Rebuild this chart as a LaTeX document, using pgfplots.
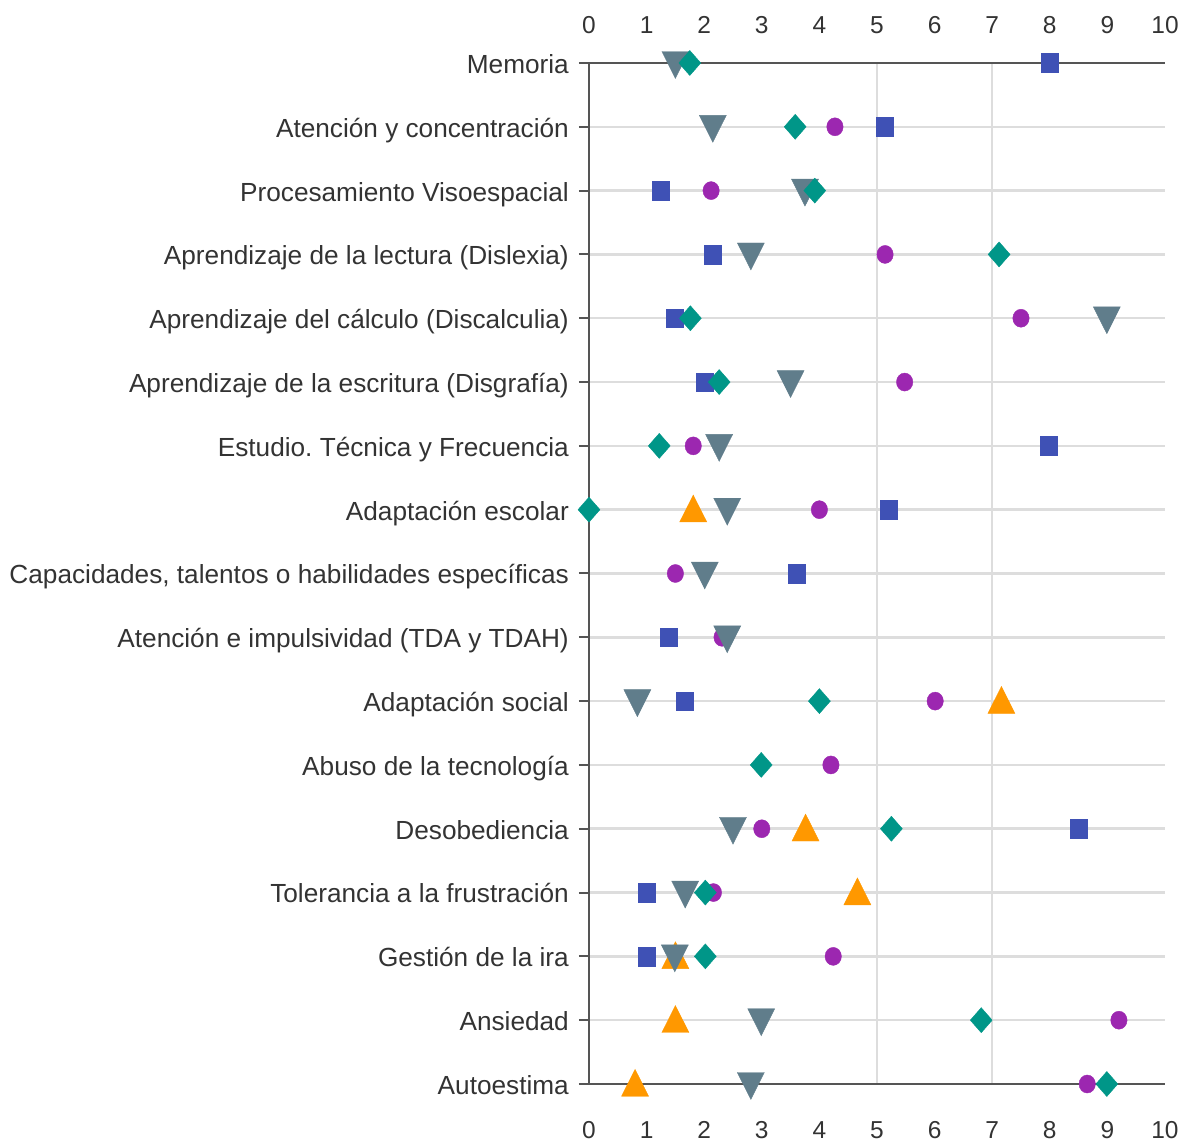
\documentclass[border=0pt]{standalone}
\usepackage{fontspec}
\setmainfont{Liberation Sans}
\usepackage{pgfplots}
\pgfplotsset{compat=1.18}
\frenchspacing
\definecolor{cSq}{HTML}{3F51B5}
\definecolor{cCi}{HTML}{9C27B0}
\definecolor{cOr}{HTML}{FF9800}
\definecolor{cTr}{HTML}{607D8B}
\definecolor{cDi}{HTML}{009688}
\definecolor{gridc}{HTML}{DDDDDD}
\definecolor{axc}{HTML}{555555}
\definecolor{txt}{HTML}{333333}
\begin{document}
\begin{tikzpicture}
\pgfplotsset{common/.style={
  width=576bp, height=1021bp, scale only axis,
  xmin=0, xmax=10, ymin=0, ymax=16,
  clip=false,
  xtick={0,...,10},
  /pgf/number format/assume math mode=true,
  xticklabel style={font=\fontsize{24.5bp}{29bp}\selectfont, text=txt},
  yticklabel style={font=\fontsize{26.2bp}{31bp}\selectfont, text=txt},
}}
\begin{axis}[common,
  axis line style={draw=none},
  ytick={0,...,16},
  yticklabels={Autoestima, Ansiedad, Gestión de la ira, Tolerancia a la frustración, Desobediencia, Abuso de la tecnología, Adaptación social, Atención e impulsividad (TDA y TDAH), {Capacidades, talentos o habilidades específicas}, Adaptación escolar, Estudio.\ Técnica y Frecuencia, Aprendizaje de la escritura (Disgrafía), Aprendizaje del cálculo (Discalculia), Aprendizaje de la lectura (Dislexia), Procesamiento Visoespacial, Atención y concentración, Memoria},
  ytick pos=left,
  xtick pos=left,
  xticklabel pos=left,
  tick align=outside,
  major tick length=10bp,
  ytick style={draw=axc, line width=2bp},
  xtick style={draw=none},
  ymajorgrids,
  major grid style={draw=gridc, line width=2.5bp},
  yticklabel style={anchor=base east, inner sep=0pt, xshift=-10bp, yshift=-10.4bp},
  xticklabel style={anchor=north, inner sep=0pt, yshift=-27bp},
]
\draw[gridc, line width=2.5bp] (axis cs:5,0) -- (axis cs:5,16);
\draw[gridc, line width=2.5bp] (axis cs:7,0) -- (axis cs:7,16);
\draw[axc, line width=2bp] (axis cs:0,0) -- (axis cs:10,0);
\draw[axc, line width=2bp] (axis cs:0,16) -- (axis cs:10,16);
\draw[axc, line width=2bp] (axis cs:0,0) -- (axis cs:0,16);
% squares
\addplot[only marks, color=cSq, mark=square*, mark size=8.5bp, mark options={draw=none, fill=cSq, yscale=1.1}]
 coordinates {(8.0,16)(5.14,15)(1.25,14)(2.15,13)(1.49,12)(2.01,11)(7.98,10)(5.2,9)(3.61,8)(1.38,7)(1.66,6)(8.5,4)(1.0,3)(1.0,2)};
% circles
\addplot[only marks, color=cCi, mark=*, mark size=8.2bp, mark options={draw=none, fill=cCi, yscale=1.1}]
 coordinates {(4.27,15)(2.12,14)(5.14,13)(7.5,12)(5.48,11)(1.81,10)(4.0,9)(1.5,8)(2.31,7)(6.01,6)(4.2,5)(3.0,4)(2.16,3)(4.24,2)(9.2,1)(8.65,0)};
% orange up triangles
\addplot[only marks, color=cOr, mark=triangle*, mark size=15.6bp, mark options={draw=none, fill=cOr, yshift=-3.3bp, yscale=1.15}]
 coordinates {(1.81,9)(7.16,6)(3.76,4)(4.66,3)(1.5,2)(1.5,1)(0.8,0)};
% grey down triangles
\addplot[only marks, color=cTr, mark=triangle*, mark size=15.6bp, mark options={draw=none, fill=cTr, yshift=2.5bp, rotate=180, yscale=1.15}]
 coordinates {(1.5,16)(2.15,15)(3.75,14)(2.81,13)(8.99,12)(3.5,11)(2.26,10)(2.4,9)(2.01,8)(2.4,7)(0.84,6)(2.5,4)(1.67,3)(1.49,2)(2.99,1)(2.81,0)};
% diamonds
\addplot[only marks, color=cDi, mark=diamond*, mark size=12.5bp, mark options={draw=none, fill=cDi, xscale=1.17}]
 coordinates {(1.75,16)(3.58,15)(3.92,14)(7.12,13)(1.76,12)(2.26,11)(1.22,10)(0,9)(4.0,6)(2.99,5)(5.25,4)(2.02,3)(2.02,2)(6.81,1)(8.99,0)};
\end{axis}
\begin{axis}[common,
  axis line style={draw=none},
  ytick=\empty,
  xtick pos=right,
  xticklabel pos=right,
  xtick style={draw=none},
  xticklabel style={anchor=south, inner sep=0pt, yshift=29bp},
]
\end{axis}
\pgfresetboundingbox
\path (-589bp,-61bp) rectangle (596bp,1084bp);
\end{tikzpicture}
\end{document}
